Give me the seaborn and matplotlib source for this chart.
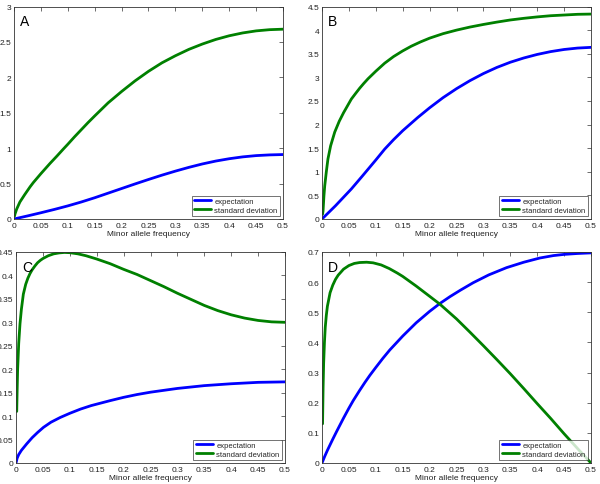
import matplotlib
matplotlib.use("Agg")
import matplotlib.pyplot as plt
import seaborn as sns
import pandas as pd
from matplotlib.ticker import FormatStrFormatter

# ---------------- data ----------------
# Panel A
a_exp_x = [0, 0.025, 0.05, 0.075, 0.1, 0.125, 0.15, 0.175, 0.2, 0.225, 0.25, 0.275, 0.3,
           0.325, 0.35, 0.375, 0.4, 0.425, 0.45, 0.475, 0.5]
a_exp_y = [0, 0.043, 0.088, 0.135, 0.185, 0.24, 0.30, 0.365, 0.43, 0.495, 0.558, 0.619, 0.676,
           0.729, 0.777, 0.818, 0.851, 0.877, 0.895, 0.905, 0.91]
a_sd_x = [0.001, 0.0019, 0.005, 0.011, 0.02, 0.03, 0.036, 0.05, 0.067, 0.08, 0.092, 0.1, 0.1125,
          0.125, 0.1375, 0.15, 0.175, 0.2, 0.225, 0.25, 0.275, 0.3, 0.325, 0.35, 0.375, 0.4,
          0.425, 0.45, 0.475, 0.5]
a_sd_y = [0.04, 0.07, 0.14, 0.24, 0.345, 0.455, 0.515, 0.64, 0.785, 0.89, 0.99, 1.055, 1.16,
          1.26, 1.36, 1.455, 1.64, 1.80, 1.95, 2.085, 2.205, 2.305, 2.395, 2.47, 2.535, 2.587,
          2.627, 2.656, 2.673, 2.68]

# Panel B
b_exp_x = [0, 0.025, 0.0545, 0.075, 0.1, 0.1165, 0.133, 0.15, 0.178, 0.2, 0.225, 0.25, 0.275,
           0.3, 0.325, 0.35, 0.375, 0.4, 0.425, 0.45, 0.475, 0.5]
b_exp_y = [0, 0.28, 0.636, 0.91, 1.25, 1.48, 1.68, 1.87, 2.15, 2.355, 2.57, 2.76, 2.93,
           3.08, 3.21, 3.32, 3.41, 3.485, 3.545, 3.59, 3.62, 3.635]
b_sd_x = [0.001, 0.0019, 0.0035, 0.005, 0.008, 0.011, 0.016, 0.0236, 0.032, 0.04, 0.0475,
          0.0545, 0.0625, 0.07, 0.0775, 0.0855, 0.1, 0.1165, 0.133, 0.15, 0.166, 0.183, 0.2,
          0.225, 0.25, 0.275, 0.3, 0.325, 0.35, 0.375, 0.4, 0.425, 0.45, 0.475, 0.5]
b_sd_y = [0.10, 0.17, 0.48, 0.70, 1.0, 1.27, 1.55, 1.84, 2.07, 2.25, 2.40, 2.54, 2.66, 2.77,
          2.87, 2.97, 3.13, 3.30, 3.44, 3.56, 3.66, 3.75, 3.83, 3.925, 4.0, 4.065, 4.12, 4.17,
          4.215, 4.25, 4.28, 4.305, 4.32, 4.335, 4.34]

# Panel C
c_exp_x = [0, 0.002, 0.005, 0.01, 0.015, 0.02, 0.03, 0.04, 0.051, 0.065, 0.082, 0.1, 0.12,
           0.14, 0.16, 0.175, 0.2, 0.225, 0.25, 0.275, 0.3, 0.325, 0.35, 0.375, 0.4, 0.425,
           0.45, 0.475, 0.5]
c_exp_y = [0, 0.010, 0.018, 0.027, 0.034, 0.041, 0.054, 0.065, 0.076, 0.087, 0.097, 0.106,
           0.115, 0.1225, 0.1285, 0.133, 0.140, 0.146, 0.151, 0.155, 0.159, 0.162, 0.165,
           0.167, 0.169, 0.1705, 0.172, 0.1725, 0.173]
c_sd_x = [0.0013, 0.002, 0.003, 0.005, 0.0074, 0.01, 0.0136, 0.018, 0.022, 0.026, 0.03, 0.035,
          0.04, 0.045, 0.05, 0.06, 0.07, 0.08, 0.09, 0.1, 0.115, 0.13, 0.15, 0.175, 0.2, 0.225,
          0.25, 0.275, 0.3, 0.325, 0.35, 0.375, 0.4, 0.425, 0.45, 0.475, 0.5]
c_sd_y = [0.11, 0.15, 0.20, 0.255, 0.297, 0.328, 0.36, 0.381, 0.394, 0.404, 0.412, 0.420,
          0.427, 0.432, 0.436, 0.442, 0.446, 0.448, 0.449, 0.4485, 0.446, 0.442, 0.435, 0.425,
          0.413, 0.402, 0.389, 0.376, 0.362, 0.349, 0.336, 0.325, 0.316, 0.309, 0.304, 0.301,
          0.300]

# Panel D
d_exp_x = [0, 0.005, 0.01, 0.02, 0.027, 0.04, 0.05, 0.058, 0.07, 0.08, 0.089, 0.1, 0.113,
           0.126, 0.15, 0.175, 0.2, 0.219, 0.238, 0.257, 0.281, 0.31, 0.343, 0.375, 0.405,
           0.43, 0.45, 0.475, 0.5]
d_exp_y = [0, 0.022, 0.042, 0.079, 0.104, 0.149, 0.182, 0.207, 0.241, 0.268, 0.291, 0.317,
           0.347, 0.375, 0.421, 0.465, 0.503, 0.529, 0.552, 0.573, 0.598, 0.624, 0.648, 0.666,
           0.680, 0.688, 0.692, 0.695, 0.697]
d_sd_x = [0.001, 0.002, 0.003, 0.0045, 0.006, 0.008, 0.01, 0.015, 0.02, 0.025, 0.03, 0.04,
          0.05, 0.06, 0.07, 0.083, 0.095, 0.11, 0.125, 0.14, 0.15, 0.175, 0.2, 0.219, 0.25,
          0.275, 0.3, 0.325, 0.35, 0.375, 0.4, 0.425, 0.45, 0.475, 0.5]
d_sd_y = [0.13, 0.25, 0.33, 0.40, 0.45, 0.49, 0.52, 0.565, 0.59, 0.609, 0.623, 0.643, 0.655,
          0.662, 0.665, 0.666, 0.664, 0.657, 0.645, 0.630, 0.619, 0.587, 0.553, 0.527, 0.478,
          0.434, 0.389, 0.343, 0.296, 0.247, 0.197, 0.148, 0.097, 0.048, 0.0]

panel_letters = ["A", "B", "C", "D"]
y_limits = [3, 4.5, 0.45, 0.7]
y_steps = [0.5, 0.5, 0.05, 0.1]
x_ticks = [0, 0.05, 0.1, 0.15, 0.2, 0.25, 0.3, 0.35, 0.4, 0.45, 0.5]
series_names = ["expectation", "standard deviation"]
xlabel_text = "Minor allele frequency"

panels = [
    (a_exp_x, a_exp_y, a_sd_x, a_sd_y),
    (b_exp_x, b_exp_y, b_sd_x, b_sd_y),
    (c_exp_x, c_exp_y, c_sd_x, c_sd_y),
    (d_exp_x, d_exp_y, d_sd_x, d_sd_y),
]

# ---------------- plotting ----------------
sns.set_style("white")
plt.rcParams["font.family"] = ["Liberation Sans", "DejaVu Sans"]

fig = plt.figure(figsize=(6.0, 4.85), dpi=100)
positions = [
    [0.0233, 0.5464, 0.4484, 0.4381],
    [0.5367, 0.5464, 0.4483, 0.4381],
    [0.0267, 0.0433, 0.4483, 0.4351],
    [0.5367, 0.0433, 0.4483, 0.4351],
]
palette = {"expectation": "#0000ff", "standard deviation": "#008000"}
edge = "#333333"

for i, (ex, ey, sx, sy) in enumerate(panels):
    ax = fig.add_axes(positions[i])
    df = pd.concat([
        pd.DataFrame({"x": ex, "y": ey, "series": series_names[0]}),
        pd.DataFrame({"x": sx, "y": sy, "series": series_names[1]}),
    ], ignore_index=True)
    sns.lineplot(data=df, x="x", y="y", hue="series", palette=palette, ax=ax,
                 linewidth=2.0, sort=False, estimator=None, hue_order=series_names)
    ax.set_xlim(0, 0.5)
    ax.set_ylim(0, y_limits[i])
    ax.set_xticks(x_ticks)
    n = int(round(y_limits[i] / y_steps[i]))
    ax.set_yticks([round(k * y_steps[i], 4) for k in range(n + 1)])
    ax.xaxis.set_major_formatter(FormatStrFormatter("%g"))
    ax.yaxis.set_major_formatter(FormatStrFormatter("%g"))
    ax.tick_params(direction="in", length=3, width=0.5, labelsize=6, pad=2,
                   colors=edge, labelcolor="#222222", top=True, right=True)
    for s in ax.spines.values():
        s.set_color(edge)
        s.set_linewidth(0.6)
    ax.set_xlabel(xlabel_text, fontsize=6, labelpad=1, color="#222222")
    ax.set_ylabel("")
    ax.text(0.022, 0.93, panel_letters[i], transform=ax.transAxes, fontsize=10,
            ha="left", va="center", color="black")
    leg = ax.legend(loc="lower right", fontsize=5.5, frameon=True, fancybox=False,
                    borderpad=0.3, handlelength=2.3, handletextpad=0.4,
                    labelspacing=0.15, borderaxespad=0.4)
    leg.get_frame().set_edgecolor(edge)
    leg.get_frame().set_linewidth(0.6)
    leg.set_title(None)

fig.savefig("out.png", dpi=100)
